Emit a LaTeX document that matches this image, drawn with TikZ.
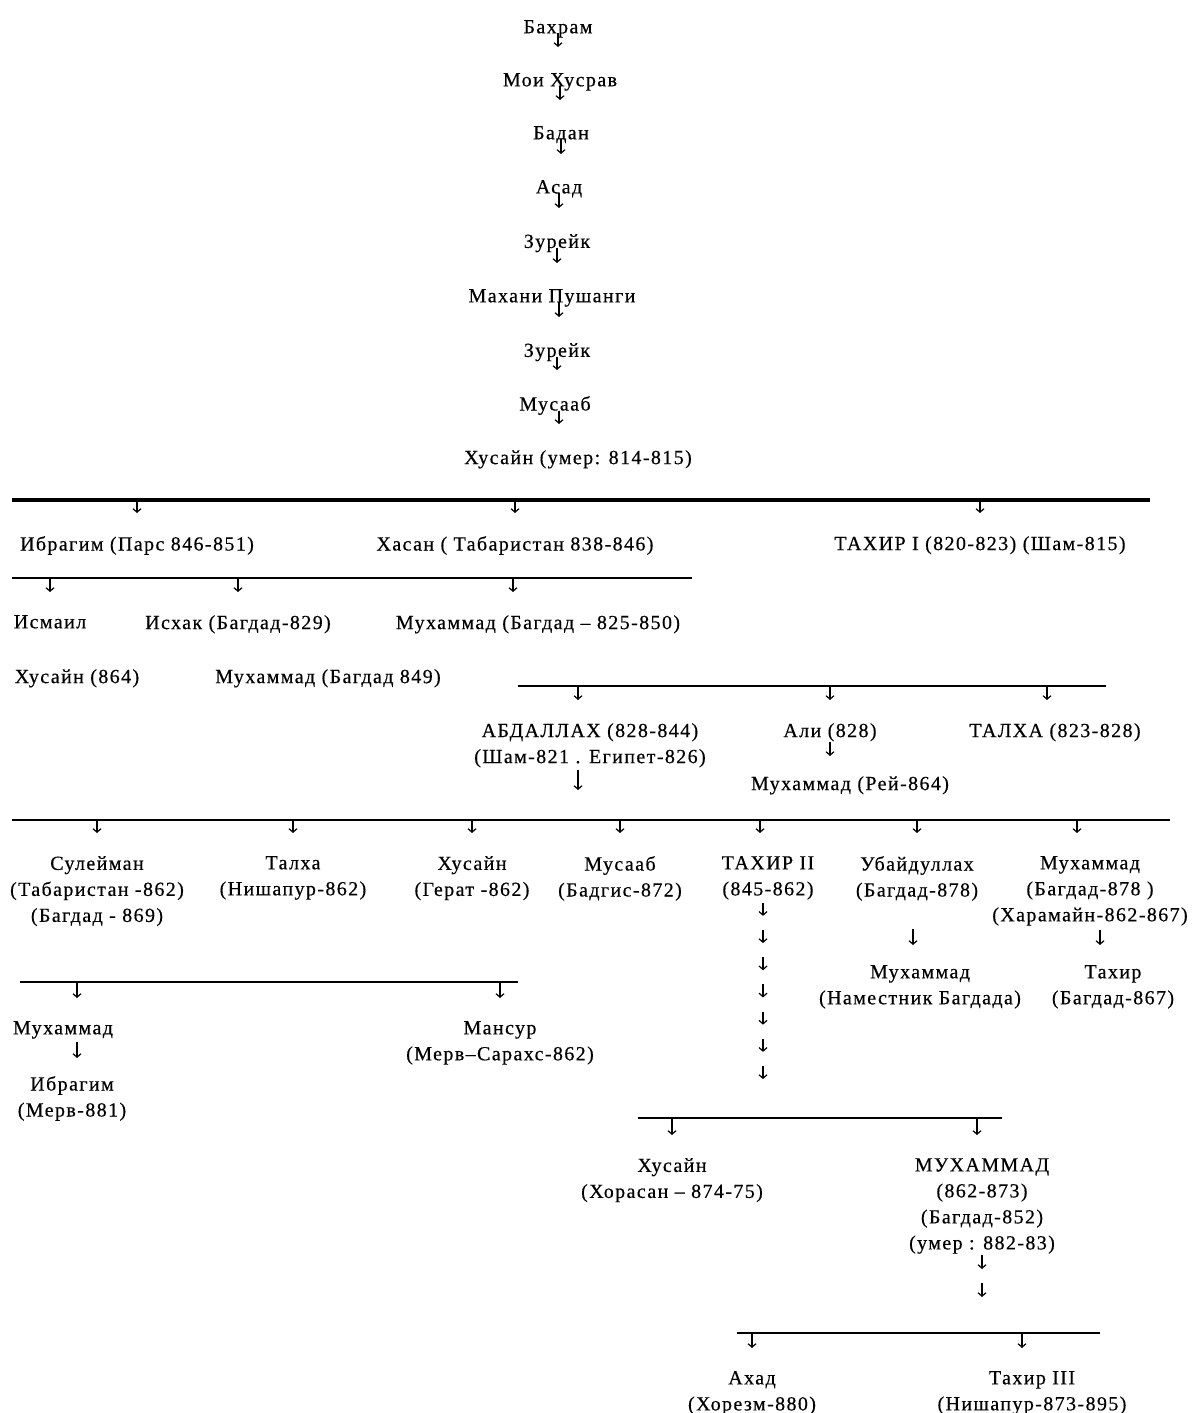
\documentclass[tikz,border=0pt]{standalone}
\usepackage{fontspec}
\setmainfont{Liberation Serif}[LetterSpace=7, FakeBold=0.4]
\usetikzlibrary{arrows.meta}

\begin{document}
\begin{tikzpicture}[x=1pt, y=-1pt,
        font=\fontsize{20}{26}\selectfont,
        person/.style={inner sep=0pt, anchor=north, align=center},
        kid/.style={-{Straight Barb[length=3.5pt,width=8pt]}, line width=1.2pt, shorten >=23pt},
        link/.style={-{Straight Barb[length=3.5pt,width=8pt]}, line width=1.2pt, shorten >=26pt},
        bar/.style={line width=1.8pt},
        thickbar/.style={line width=4pt}]

            \fill[white] (0,0) rectangle (1191,1413);
            \useasboundingbox (0,0) rectangle (1191,1413);

            % line from Bahram to Husayn
            \node[person] (bahram) at (558,20) {Бахрам};
            \node[person] (moisr) at (560,73) {Мои Хусрав};
            \node[person] (badan) at (561,126) {Бадан};
            \node[person] (asad) at (559,180) {Асад};
            \node[person] (zureikA) at (557,234) {Зурейк};
            \node[person] (mahani) at (552,289) {Махани Пушанги};
            \node[person] (zureikB) at (557,343) {Зурейк};
            \node[person] (musaab) at (555,396) {Мусааб};
            \node[person] (husayn) at (578,450) {Хусайн (умер: 814-815)};

            \draw[link] (bahram.base) -- (bahram.base |- moisr.north);
            \draw[link] (moisr.base) -- (moisr.base |- badan.north);
            \draw[link] (badan.base) -- (badan.base |- asad.north);
            \draw[link] (asad.base) -- (asad.base |- zureikA.north);
            \draw[link] (zureikA.base) -- (zureikA.base |- mahani.north);
            \draw[link] ([xshift=7pt]mahani.base) -- ([xshift=7pt]mahani.base |- zureikB.north);
            \draw[link] (zureikB.base) -- (zureikB.base |- musaab.north);
            \draw[link] ([xshift=4pt]musaab.base) -- ([xshift=4pt]musaab.base |- husayn.north);

            % sons of Husayn
            \coordinate (barA0) at (12,500);
            \coordinate (barA1) at (1150,500);
            \draw[thickbar] (barA0) -- (barA1);

            \node[person] (ibragim) at (137,536) {Ибрагим (Парс 846-851)};
            \node[person] (hasan) at (515,536) {Хасан ( Табаристан 838-846)};
            \node[person] (tahirI) at (980,536) {ТАХИР I (820-823) (Шам-815)};

            \draw[kid, shorten <=2pt] (ibragim.north |- barA0) -- (ibragim.north);
            \draw[kid, shorten <=2pt] (hasan.north |- barA0) -- (hasan.north);
            \draw[kid, shorten <=2pt] (tahirI.north |- barA0) -- (tahirI.north);

            % sons of Ibragim and Hasan
            \coordinate (barB0) at (12,578);
            \coordinate (barB1) at (692,578);
            \draw[bar] (barB0) -- (barB1);

            \node[person] (ismail) at (50,615) {Исмаил};
            \node[person] (ishak) at (238,615) {Исхак (Багдад-829)};
            \node[person] (muhB) at (538,615) {Мухаммад (Багдад – 825-850)};
            \node[person] (husayn864) at (77,669) {Хусайн (864)};
            \node[person] (muh849) at (328,669) {Мухаммад (Багдад 849)};

            \draw[kid] (ismail.north |- barB0) -- (ismail.north);
            \draw[kid] (ishak.north |- barB0) -- (ishak.north);
            \draw[kid] ([xshift=-25pt]muhB.north |- barB0) -- ([xshift=-25pt]muhB.north);

            % sons of Tahir I
            \coordinate (barC0) at (518,686);
            \coordinate (barC1) at (1106,686);
            \draw[bar] (barC0) -- (barC1);

            \node[person] (abdallah) at (590,723) {АБДАЛЛАХ (828-844)\\(Шам-821 . Египет-826)};
            \node[person] (ali) at (830,723) {Али (828)};
            \node[person] (talha) at (1055,723) {ТАЛХА (823-828)};
            \node[person] (muhRey) at (850,776) {Мухаммад (Рей-864)};

            \draw[kid] ([xshift=-12pt]abdallah.north |- barC0) -- ([xshift=-12pt]abdallah.north);
            \draw[kid] (ali.north |- barC0) -- (ali.north);
            \draw[kid] ([xshift=-8pt]talha.north |- barC0) -- ([xshift=-8pt]talha.north);
            \draw[kid, shorten >=20pt] (ali.south) -- (ali.south |- muhRey.north);

            % sons of Abdallah
            \coordinate (barD0) at (12,820);
            \coordinate (barD1) at (1170,820);
            \draw[bar] (barD0) -- (barD1);
            \draw[kid, shorten <=2pt, shorten >=30pt] ([xshift=-12pt]abdallah.south) -- ([xshift=-12pt]abdallah.south |- barD0);

            \node[person] (suleyman) at (97,856) {Сулейман\\(Табаристан -862)\\(Багдад - 869)};
            \node[person] (talhaN) at (293,856) {Талха\\(Нишапур-862)};
            \node[person] (husaynG) at (472,856) {Хусайн\\(Герат -862)};
            \node[person] (musaabB) at (620,856) {Мусааб\\(Бадгис-872)};
            \node[person] (tahirII) at (768,856) {ТАХИР II\\(845-862)};
            \node[person] (ubayd) at (917,856) {Убайдуллах\\(Багдад-878)};
            \node[person] (muhH) at (1090,856) {Мухаммад\\(Багдад-878 )\\(Харамайн-862-867)};

            \draw[kid] (suleyman.north |- barD0) -- (suleyman.north);
            \draw[kid] (talhaN.north |- barD0) -- (talhaN.north);
            \draw[kid] (husaynG.north |- barD0) -- (husaynG.north);
            \draw[kid] (musaabB.north |- barD0) -- (musaabB.north);
            \draw[kid] ([xshift=-8pt]tahirII.north |- barD0) -- ([xshift=-8pt]tahirII.north);
            \draw[kid] (ubayd.north |- barD0) -- (ubayd.north);
            \draw[kid] ([xshift=-13pt]muhH.north |- barD0) -- ([xshift=-13pt]muhH.north);

            % sons of Suleyman
            \coordinate (barE0) at (20,982);
            \coordinate (barE1) at (518,982);
            \draw[bar] (barE0) -- (barE1);

            \node[person] (muhM) at (63,1021) {Мухаммад};
            \node[person] (mansur) at (500,1021) {Мансур\\(Мерв–Сарахс-862)};
            \node[person] (ibragimM) at (72,1076) {Ибрагим\\(Мерв-881)};

            \draw[kid] ([xshift=14pt]muhM.north |- barE0) -- ([xshift=14pt]muhM.north);
            \draw[kid] (mansur.north |- barE0) -- (mansur.north);
            \draw[kid, shorten <=3pt, shorten >=18pt] ([xshift=14pt]muhM.south) -- ([xshift=14pt]muhM.south |- ibragimM.north);

            % sons of Ubaydullah and Muhammad
            \node[person] (muhN) at (920,965) {Мухаммад\\(Наместник Багдада)};
            \node[person] (tahirB) at (1113,965) {Тахир\\(Багдад-867)};

            \draw[kid, shorten <=28pt, shorten >=20pt] ([xshift=-4pt]ubayd.south) -- ([xshift=-4pt]ubayd.south |- muhN.north);
            \draw[kid, shorten <=4pt, shorten >=20pt] ([xshift=10pt]muhH.south) -- ([xshift=10pt]muhH.south |- tahirB.north);

            % sons of Tahir II
            \foreach \i in {0,...,6}
                \draw[kid, shorten >=0pt] ([xshift=-5pt, yshift=-3pt-\i*27.2pt]tahirII.south) -- ([xshift=-5pt, yshift=-16pt-\i*27.2pt]tahirII.south);

            \coordinate (barF0) at (638,1118);
            \coordinate (barF1) at (1002,1118);
            \draw[bar] (barF0) -- (barF1);

            \node[person] (husaynKh) at (672,1158) {Хусайн\\(Хорасан – 874-75)};
            \node[person] (muhU) at (982,1158) {МУХАММАД\\(862-873)\\(Багдад-852)\\(умер : 882-83)};

            \draw[kid] (husaynKh.north |- barF0) -- (husaynKh.north);
            \draw[kid] ([xshift=-5pt]muhU.north |- barF0) -- ([xshift=-5pt]muhU.north);

            % sons of Muhammad
            \coordinate (barG0) at (737,1333);
            \coordinate (barG1) at (1100,1333);
            \draw[bar] (barG0) -- (barG1);

            \draw[kid, shorten <=1pt, shorten >=64pt] (muhU.south) -- (muhU.south |- barG0);
            \draw[kid, shorten <=29pt, shorten >=36pt] (muhU.south) -- (muhU.south |- barG0);

            \node[person] (ahad) at (752,1371) {Ахад\\(Хорезм-880)};
            \node[person] (tahirIII) at (1032,1371) {Тахир III\\(Нишапур-873-895)};

            \draw[kid] (ahad.north |- barG0) -- (ahad.north);
            \draw[kid] ([xshift=-10pt]tahirIII.north |- barG0) -- ([xshift=-10pt]tahirIII.north);

        \end{tikzpicture}
\end{document}
